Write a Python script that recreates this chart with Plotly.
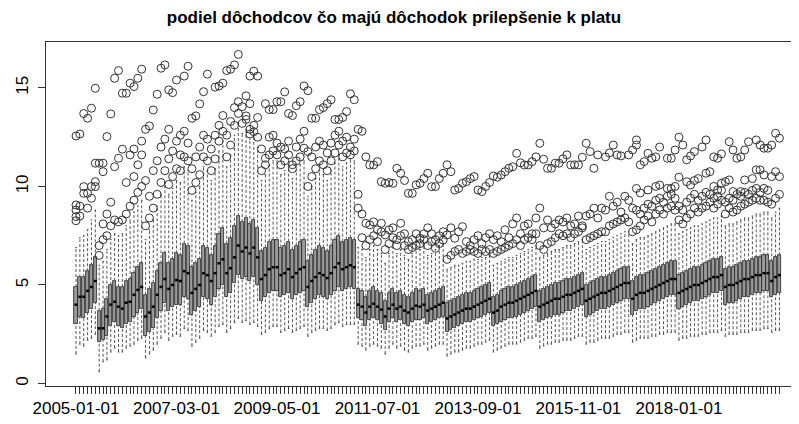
import plotly.graph_objects as go
import pandas as pd

months = [d.strftime("%Y-%m-%d") for d in pd.date_range("2005-01-01", periods=183, freq="MS")]
tick_labels = ["2005-01-01", "2007-03-01", "2009-05-01", "2011-07-01", "2013-09-01", "2015-11-01", "2018-01-01"]

med = [4.0,4.4,4.4,4.7,4.9,5.2, 2.8,2.8,3.4,4.0,4.15,3.9,
       3.8,4.1,4.15,4.5,4.75,4.9, 3.4,3.6,3.9,4.5,4.9,5.3,
       4.8,5.0,5.25,5.2,5.7,5.6, 4.6,4.8,5.0,5.6,5.5,5.2,
       5.6,6.1,6.3,5.6,5.85,6.4, 7.0,6.7,6.9,6.6,6.9,6.4,
       5.3,5.5,5.8,5.9,5.9,5.5, 5.6,5.8,5.4,5.6,5.8,5.9,
       4.9,5.2,5.4,5.6,5.5,5.35, 5.6,5.9,6.1,5.8,5.9,6.0,
       5.9,4.0,3.9,3.6,3.9,4.05, 3.9,3.75,3.4,3.8,4.0,3.8,
       3.9,3.7,3.6,3.8,3.95,3.9, 4.0,3.7,3.8,3.9,4.0,4.1,
       3.3,3.4,3.5,3.6,3.7,3.8, 3.8,3.9,4.0,4.1,4.2,4.3,
       3.6,3.7,3.9,4.0,4.1,4.1, 4.2,4.3,4.4,4.5,4.6,4.7,
       3.9,4.0,4.1,4.2,4.3,4.3, 4.4,4.5,4.5,4.6,4.7,4.8,
       4.2,4.3,4.4,4.5,4.6,4.6, 4.7,4.8,4.9,5.0,5.1,5.1,
       4.3,4.5,4.6,4.6,4.7,4.8, 4.9,5.0,5.1,5.2,5.3,5.3,
       4.6,4.7,4.8,4.9,5.0,5.0, 5.1,5.2,5.3,5.4,5.4,5.5,
       4.9,5.0,5.0,5.1,5.2,5.3, 5.3,5.4,5.5,5.5,5.6,5.6,
       5.2,5.4,5.5]
q1 = [3.0,3.4,3.3,3.6,3.8,4.1, 2.1,2.2,2.4,2.9,3.1,2.9,
      2.8,3.0,3.1,3.4,3.6,3.8, 2.4,2.6,2.8,3.3,3.7,4.1,
      3.7,3.9,4.0,4.0,4.4,4.3, 3.5,3.7,3.9,4.4,4.3,4.0,
      4.4,4.8,5.0,4.4,4.6,5.1, 5.5,5.3,5.4,5.2,5.4,5.0,
      4.2,4.4,4.6,4.7,4.7,4.4, 4.5,4.6,4.3,4.5,4.6,4.7,
      3.9,4.1,4.3,4.5,4.4,4.3, 4.5,4.7,4.9,4.7,4.8,4.9,
      4.8,3.3,3.2,2.9,3.2,3.3, 3.2,3.0,2.7,3.1,3.3,3.1,
      3.2,3.0,2.9,3.1,3.2,3.2, 3.3,3.0,3.1,3.2,3.3,3.4,
      2.6,2.7,2.8,2.9,3.0,3.1, 3.1,3.2,3.3,3.4,3.5,3.6,
      2.9,3.0,3.1,3.2,3.3,3.3, 3.4,3.5,3.6,3.7,3.8,3.9,
      3.1,3.2,3.3,3.4,3.5,3.5, 3.6,3.7,3.7,3.8,3.9,4.0,
      3.4,3.5,3.6,3.7,3.8,3.8, 3.9,4.0,4.1,4.2,4.3,4.3,
      3.5,3.7,3.8,3.8,3.9,4.0, 4.1,4.2,4.3,4.4,4.5,4.5,
      3.8,3.9,4.0,4.1,4.2,4.2, 4.3,4.4,4.5,4.6,4.6,4.7,
      4.0,4.1,4.1,4.2,4.3,4.4, 4.4,4.5,4.6,4.6,4.7,4.7,
      4.4,4.5,4.6]
q3 = [4.9,5.4,5.4,5.7,6.0,6.4, 3.7,3.8,4.3,5.0,5.2,4.9,
      4.9,5.2,5.3,5.6,5.9,6.1, 4.5,4.8,5.1,5.7,6.1,6.6,
      6.1,6.3,6.6,6.5,7.1,7.0, 5.9,6.1,6.3,7.0,6.9,6.5,
      7.0,7.6,7.9,7.1,7.4,8.0, 8.5,8.2,8.4,8.1,8.3,7.9,
      6.7,6.9,7.2,7.3,7.3,6.9, 7.0,7.2,6.8,7.0,7.2,7.3,
      6.2,6.5,6.8,7.0,6.9,6.7, 7.0,7.3,7.5,7.2,7.3,7.4,
      7.3,4.8,4.7,4.4,4.7,4.9, 4.7,4.6,4.2,4.6,4.8,4.6,
      4.7,4.5,4.4,4.6,4.8,4.7, 4.8,4.5,4.6,4.7,4.8,4.9,
      4.1,4.2,4.3,4.4,4.5,4.6, 4.6,4.7,4.8,4.9,5.0,5.1,
      4.4,4.5,4.7,4.8,4.9,4.9, 5.0,5.1,5.2,5.3,5.4,5.5,
      4.7,4.8,4.9,5.0,5.1,5.1, 5.2,5.3,5.3,5.4,5.5,5.6,
      5.0,5.1,5.2,5.3,5.4,5.4, 5.5,5.6,5.7,5.8,5.9,5.9,
      5.2,5.4,5.5,5.5,5.6,5.7, 5.8,5.9,6.0,6.1,6.2,6.2,
      5.5,5.6,5.7,5.8,5.9,5.9, 6.0,6.1,6.2,6.3,6.3,6.4,
      5.8,5.9,5.9,6.0,6.1,6.2, 6.2,6.3,6.4,6.4,6.5,6.5,
      6.2,6.4,6.5]
lo = [1.5,2.0,1.9,2.2,2.3,2.5, 0.6,1.1,1.2,1.6,1.8,1.6,
      1.6,1.8,1.9,2.0,2.2,2.3, 1.3,1.5,1.7,2.0,2.3,2.6,
      2.2,2.4,2.5,2.4,2.8,2.7, 1.9,2.1,2.3,2.7,2.6,2.4,
      2.6,2.9,3.0,2.6,2.8,3.1, 3.3,3.1,3.2,3.0,3.1,2.9,
      2.5,2.6,2.8,2.9,2.9,2.6, 2.7,2.8,2.6,2.7,2.8,2.9,
      2.4,2.6,2.7,2.8,2.8,2.7, 2.8,3.0,3.1,2.9,3.0,3.0,
      3.0,2.0,1.9,1.7,1.9,2.0, 1.9,1.8,1.5,1.8,2.0,1.8,
      1.9,1.7,1.6,1.8,1.9,1.9, 2.0,1.7,1.8,1.9,2.0,2.0,
      1.4,1.5,1.6,1.6,1.7,1.8, 1.8,1.9,2.0,2.0,2.1,2.2,
      1.6,1.7,1.8,1.9,2.0,2.0, 2.0,2.1,2.2,2.3,2.3,2.4,
      1.8,1.9,2.0,2.0,2.1,2.1, 2.2,2.2,2.2,2.3,2.4,2.4,
      2.0,2.1,2.1,2.2,2.3,2.3, 2.3,2.4,2.5,2.5,2.6,2.6,
      2.1,2.2,2.3,2.3,2.3,2.4, 2.4,2.5,2.5,2.6,2.6,2.6,
      2.2,2.3,2.3,2.4,2.4,2.4, 2.5,2.5,2.6,2.6,2.6,2.7,
      2.4,2.5,2.5,2.5,2.6,2.6, 2.6,2.7,2.7,2.7,2.8,2.8,
      2.6,2.7,2.7]
hi = [6.9,7.4,7.5,7.8,8.3,8.8, 6.0,6.2,6.8,7.3,7.6,7.5,
      7.6,8.0,8.3,8.7,9.0,9.3, 7.3,7.8,8.3,9.0,9.6,10.2,
      9.6,9.9,10.3,10.2,11.0,10.8, 9.3,9.7,10.0,11.0,10.8,10.3,
      10.9,11.8,12.3,11.0,11.6,12.6, 13.2,12.7,12.9,12.4,12.6,12.0,
      10.3,10.6,11.1,11.3,11.3,10.6, 10.8,11.1,10.4,10.8,11.1,11.3,
      9.5,10.0,10.4,10.8,10.6,10.3, 10.8,11.2,11.6,11.0,11.2,11.4,
      11.3,6.9,6.8,6.4,6.8,7.0, 6.8,6.6,6.1,6.6,6.9,6.6,
      6.8,6.5,6.3,6.6,6.9,6.8, 7.0,6.5,6.6,6.8,7.0,7.1,
      5.8,5.9,6.0,6.0,6.1,6.2, 6.2,6.3,6.3,6.4,6.4,6.5,
      6.0,6.1,6.2,6.3,6.4,6.4, 6.5,6.6,6.7,6.8,6.9,7.0,
      6.4,6.5,6.6,6.7,6.8,6.8, 6.9,7.0,7.0,7.1,7.2,7.3,
      6.8,6.9,7.0,7.1,7.2,7.2, 7.3,7.4,7.5,7.6,7.7,7.7,
      7.1,7.3,7.4,7.4,7.5,7.6, 7.7,7.8,7.9,8.0,8.1,8.1,
      7.6,7.7,7.8,7.9,8.0,8.0, 8.1,8.2,8.3,8.4,8.4,8.5,
      8.0,8.1,8.1,8.2,8.3,8.4, 8.4,8.5,8.6,8.6,8.7,8.7,
      8.4,8.7,8.9]

# highest run of outliers (month index, value)
top_month = [0,1,2,3,4,5,8,9,10,11,12,13,14,15,16,17,18,19,20,21,22,23,24,25,26,28,29,
             30,31,32,33,34,36,37,38,39,40,41,42,43,44,45,46,45,46,47,
             49,50,51,52,53,54,55,56,57,58,59,60,61,62,63,64,65,66,67,68,69,70,71,72,73,74,
             75,76,77,78,79,80,81,82,83,84,85,86,87,88,89,90,91,92,93,94,95,96,97,
             98,99,100,101,102,103,104,105,106,107,108,109,110,111,112,113,114,115,116,117,118,119,
             120,121,122,123,124,125,126,127,128,129,130,131,132,133,134,
             135,137,138,139,140,141,143,144,145,145,146,147,148,149,150,151,153,154,155,156,157,158,159,160,162,163,
             165,166,167,169,170,171,172,173,174,176,177,178,179,180,181,182]
top_value = [12.56,12.66,13.7,13.46,13.97,14.98,12.53,13.68,15.49,15.88,14.73,14.73,15.24,15.07,15.49,15.95,12.9,13.07,13.88,14.68,16.0,16.17,14.9,14.76,15.4,15.6,16.1,
             13.46,13.58,14.19,14.81,15.7,15.04,15.1,15.24,15.88,15.95,16.17,16.7,14.05,13.58,12.66,12.78,15.6,15.85,15.6,
             14.2,13.9,13.9,14.3,14.3,14.8,13.7,13.6,14.1,14.3,15.1,14.86,13.46,13.46,13.9,14.0,14.2,14.4,13.4,13.4,13.5,13.8,14.7,14.4,12.9,12.8,
             11.5,11.09,11.09,11.26,10.24,10.16,10.2,10.16,10.92,10.67,10.3,9.65,9.65,10.08,10.16,10.4,10.67,9.99,9.99,10.4,10.67,11.1,10.75,
             9.82,9.9,10.16,10.24,10.4,10.5,9.82,9.74,10.0,10.2,10.53,10.47,10.58,10.75,10.92,11.0,11.68,11.2,11.09,11.09,11.26,11.5,
             12.19,11.38,10.92,10.92,11.18,11.18,11.4,11.6,11.09,11.1,11.09,11.48,12.19,11.77,10.92,
             11.6,11.5,11.7,12.1,11.6,11.55,11.6,11.85,12.36,12.1,11.1,11.26,11.68,11.43,11.5,12.0,11.43,11.43,11.85,12.5,12.1,11.35,11.55,11.77,12.0,12.36,
             11.5,11.43,11.65,12.27,11.85,11.43,11.5,11.85,12.27,12.36,12.1,11.94,11.94,12.1,12.7,12.45]
# second run of outliers in the later years
band_month = [145,146,148,150,151,153,154,155,156,158,159,160,161,163,164,165,166,167,168,169,170,172,173,175,176,177,178,180,181,182]
band_value = [9.9,9.67,9.82,10.0,10.07,9.9,9.9,10.0,10.47,10.24,10.07,10.3,10.4,10.67,10.75,10.0,9.82,10.16,10.24,10.33,9.74,9.74,10.33,10.4,10.84,10.84,10.58,10.5,10.75,10.5]
# outliers lying just above the upper whiskers, per month
near_outliers = [
    [8.26,8.47,8.8,9.06],[8.5,9.0],[9.65,9.99],[9.65,8.9],[9.4,10.0],[10.24,9.99,11.18],
    [6.5,7.0,11.18],[7.3,8.1,10.75,11.18],[7.5,8.6],[8.0,9.2],[8.3,11.0],[8.2,11.43],
    [8.3,11.89],[8.6,10.2],[9.0,11.6],[9.3,10.5,11.9],[9.7,11.1],[10.0,11.6,12.3],
    [8.0,10.3],[8.4,9.5],[8.9,10.8],[9.6,11.3],[10.2,12.0],[10.8,12.4],
    [10.1,11.4,12.9],[10.5,11.8],[10.9,12.3],[10.8,11.6,12.6],[11.5,12.8],[11.3,12.2],
    [9.8,10.9],[10.2,11.5],[10.6,12.0],[11.5,12.6],[11.3,12.4],[10.8,11.9],
    [11.4,12.6],[12.3,13.1],[12.8,13.6],[11.5,12.6],[12.1,13.3],[13.1,14.0],
    [13.7,14.3],[13.2],[13.4,14.6],[12.9,14.2],[13.1],[12.5,13.5],
    [10.8,11.9],[11.1,11.43],[11.6,12.5],[11.8,12.6],[11.6,12.2],[11.1,12.0],
    [11.3,11.9],[11.6,12.3],[10.9,11.1],[11.3,12.0],[11.5,12.4],[11.94,12.8],
    [10.0,11.77],[10.5,11.5],[10.9,12.0],[11.3,12.3],[11.1,12.1],[10.8,11.7],
    [11.3,12.2],[11.7,12.6],[12.1,12.8],[11.5,12.3],[11.7,12.5],[11.6,12.0],
    [11.8,12.4],[8.9,9.6],[8.6,7.4],[8.13,7.0],[8.05,7.3],[8.2,7.5],
    [7.2,7.8],[8.13,7.7],[7.54,6.8],[7.8,7.1],[7.9,7.4],[7.3,7.0],
    [8.13,7.5],[7.6,7.0],[7.2,6.8],[6.9,7.3],[7.0,7.6],[7.37,7.1],
    [7.6,7.3],[7.9,7.0],[7.2,7.6],[6.86,7.3],[7.5,7.1],[7.28,7.7],
    [7.54,6.3],[7.9,6.5],[6.7,7.37],[6.8,7.7],[6.6,7.96],[6.7,7.2],
    [6.8,7.0],[6.7,7.3],[6.6,7.5],[6.8,7.1],[6.7,7.4],[6.8,7.6],
    [6.6,7.3],[6.7,7.5],[6.8,7.2],[7.8,6.9],[7.4,7.0],[8.1,7.1],
    [8.4,7.3],[7.6,7.0],[8.0,7.3],[8.1,7.4],[7.6,7.3],[8.4,7.6],
    [8.9,7.0],[7.9,6.8],[8.3,7.1],[7.9,7.2],[8.1,7.4],[7.6,8.3],
    [8.2,7.5],[8.4,7.6],[8.0,7.4],[8.1,7.6],[8.5,7.7],[8.0,7.9],
    [8.5,7.3],[8.6,7.4],[8.9,7.5],[8.4,7.6],[8.9,7.7],[8.8,7.7],
    [9.5,8.0],[9.0,8.1],[9.2,8.2],[8.7,8.3],[9.5,8.4],[9.3,8.2],
    [8.9,7.7],[8.8,7.8],[8.0,8.6],[8.3,8.9],[8.5,9.1],[8.2,9.0],
    [8.6,9.3],[8.8,9.4],[8.6,9.2],[8.9,9.5],[9.0,9.6],[8.8,9.4],
    [8.3,9.0],[8.1,8.8],[8.4,9.2],[8.6,9.4],[8.9,9.6],[8.7,9.3],
    [8.9,9.5],[9.0,9.7],[9.2,9.6],[8.9,9.4],[9.1,9.5],[9.3,9.8],
    [8.6,9.2],[8.9,9.4],[8.7,9.3],[8.8,9.6],[9.0,9.5],[9.1,9.7],
    [9.2,9.6],[9.3,9.8],[9.4,9.9],[9.3,9.7],[9.3,9.9],[9.2,9.8],
    [9.1],[9.4],[9.6]]

n = len(med)
xs = list(range(n))

out_x = list(top_month) + list(band_month)
out_y = list(top_value) + list(band_value)
for i, vals in enumerate(near_outliers):
    out_x += [i] * len(vals)
    out_y += vals

hw = 0.4   # half box width
sw = 0.2   # half staple width
wx, wy, sx, sy, mx, my = [], [], [], [], [], []
for i in xs:
    wx += [i, i, None, i, i, None]
    wy += [lo[i], q1[i], None, q3[i], hi[i], None]
    sx += [i - sw, i + sw, None, i - sw, i + sw, None]
    sy += [lo[i], lo[i], None, hi[i], hi[i], None]
    mx += [i - hw, i + hw, None]
    my += [med[i], med[i], None]

fig = go.Figure()
fig.add_trace(go.Scatter(x=wx, y=wy, mode="lines", line=dict(color="#555", width=1, dash="3px,2px"), hoverinfo="skip"))
fig.add_trace(go.Scatter(x=sx, y=sy, mode="lines", line=dict(color="#444", width=1), hoverinfo="skip"))
fig.add_trace(go.Bar(x=xs, y=[q3[i] - q1[i] for i in xs], base=q1, width=2 * hw,
                     marker=dict(color="#9a9a9a", line=dict(color="#222", width=0.8))))
fig.add_trace(go.Scatter(x=mx, y=my, mode="lines", line=dict(color="#000", width=2.5), hoverinfo="skip"))
fig.add_trace(go.Scatter(x=out_x, y=out_y, mode="markers",
                         marker=dict(symbol="circle-open", size=8, color="#333", line=dict(width=1))))

ticktext = [m if m in tick_labels else "" for m in months]

# The page places the figure 8px from its top-left corner; margins compensate.
fig.update_layout(
    width=799, height=424, showlegend=False,
    margin=dict(l=38, r=0, t=34, b=46),
    plot_bgcolor="white", paper_bgcolor="white",
    font=dict(family="Liberation Sans, Arial, sans-serif", color="#000"),
    title=dict(text="<b>podiel dôchodcov čo majú dôchodok prilepšenie k platu</b>",
               x=386 / 799, xanchor="center", xref="container", y=1 - 3 / 424, yanchor="top",
               yref="container", font=dict(size=17)),
    xaxis=dict(range=[-7.76, 189.13], tickvals=xs, ticktext=ticktext, ticks="outside",
               ticklen=7, tickcolor="#333", showline=True, mirror=True, linecolor="#333",
               showgrid=False, zeroline=False, tickfont=dict(size=17), tickangle=0, automargin=False),
    yaxis=dict(range=[-0.127, 17.33], tickvals=[0, 5, 10, 15], ticks="outside", ticklen=7,
               tickcolor="#333", showline=True, linecolor="#333", showgrid=False, zeroline=False,
               tickangle=-90, tickfont=dict(size=17), automargin=False, ticklabelstandoff=3),
    bargap=0,
)
fig.write_html("out.html")
